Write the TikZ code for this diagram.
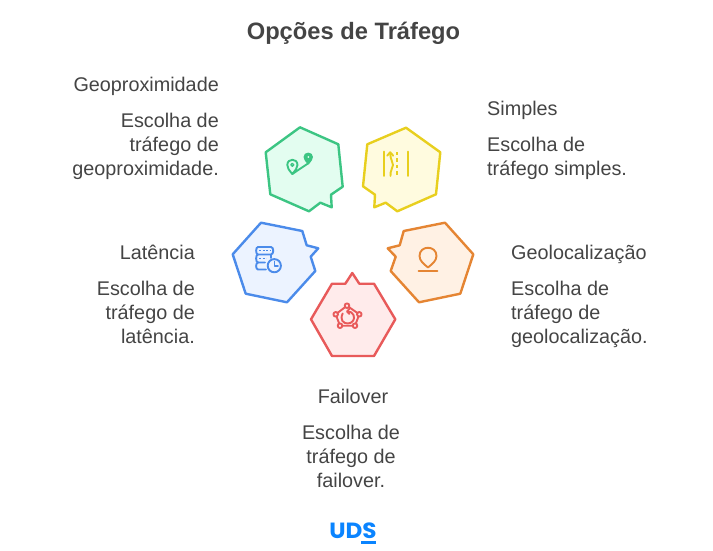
\documentclass[tikz,border=0pt]{standalone}
\usepackage{fontspec}
\setmainfont{Liberation Sans}
\newfontfamily\logofont{Poppins}
\definecolor{ink}{HTML}{444444}
\definecolor{gline}{HTML}{3CC583}\definecolor{gfill}{HTML}{E3FDF0}
\definecolor{yline}{HTML}{E8CF1E}\definecolor{yfill}{HTML}{FFFBDF}
\definecolor{oline}{HTML}{E58533}\definecolor{ofill}{HTML}{FFF1E4}
\definecolor{rline}{HTML}{E85A5A}\definecolor{rfill}{HTML}{FFEBEB}
\definecolor{bline}{HTML}{4B8BEA}\definecolor{bfill}{HTML}{ECF3FF}
\definecolor{logo}{HTML}{0A84FF}
\tikzset{
  x=1pt,y=-1pt,
  hex/.style={line width=2.4pt,line join=round},
  icon/.style={line width=1.9pt,line cap=round,line join=round},
  head/.style={inner sep=0pt,text=ink,font=\fontsize{19.8}{24}\selectfont},
  body/.style={inner sep=0pt,text=ink,font=\fontsize{19.8}{24}\selectfont},
}
\begin{document}
\begin{tikzpicture}
\useasboundingbox (0,0) rectangle (713,551);
\node[inner sep=0pt,text=ink,font=\fontsize{23.7}{28}\selectfont\bfseries] (title) at (353.5,33) {Opções de Tráfego};
% hexagons
\draw[hex,draw=gline,fill=gfill] (300,127.3)--(338.3,144.3)--(342.7,186.7)--(331,194.7)--(331.7,207.3)--(320.3,202.7)--(309,211.3)--(270.3,194.3)--(265.7,152.3)--cycle;
\draw[hex,draw=yline,fill=yfill] (406,127.7)--(440.3,152.3)--(436,194.3)--(397.3,211.3)--(385.7,202.7)--(374.3,207.3)--(375,194.7)--(363,186.3)--(367.3,144.3)--cycle;
\draw[hex,draw=oline,fill=ofill] (445,222.7)--(473.3,254.3)--(460.3,293.7)--(419,302.3)--(390.7,271)--(395.7,256.7)--(387.7,248.3)--(399.7,245.3)--(403.7,231)--cycle;
\draw[hex,draw=rline,fill=rfill] (352.3,273)--(359.3,283.7)--(374,283.7)--(395.3,319.3)--(374,356)--(332,356)--(311,319.3)--(332,283.7)--(345.3,283.7)--cycle;
\draw[hex,draw=bline,fill=bfill] (261,222.7)--(302.3,231)--(306.7,245.3)--(318.3,248.3)--(310.7,256.7)--(315.3,271)--(287,302.3)--(245.7,293.7)--(232.7,254.3)--cycle;
% green icon
\begin{scope}[icon,draw=gline]
\draw (292.3,174) .. controls (289,170) and (287.3,168) .. (287.3,165) .. controls (287.3,158) and (297.5,158) .. (297.5,165) .. controls (297.5,168) and (295.5,170) .. (292.3,174) -- cycle;
\draw[line width=1.3pt] (292.3,164.8) circle (1.5);
\draw[fill=gline] (308.3,163.5) .. controls (306,160.5) and (304.5,159) .. (304.5,157) .. controls (304.5,152.5) and (312,152.5) .. (312,157) .. controls (312,159) and (310.5,160.5) .. (308.3,163.5) -- cycle;
\fill[gfill] (308.3,157) circle (1);
\draw (292.3,174)--(308,163.5);
\end{scope}
% yellow icon
\begin{scope}[icon,draw=yline]
\draw (383.7,151.5)--(383.7,176);
\draw (408,151.5)--(408,176);
\draw[line cap=butt,dash pattern=on 3.4pt off 3pt] (396.8,152)--(396.8,176);
\draw (390.5,176) .. controls (390,170) and (393,168.5) .. (393,165) .. controls (393,161.5) and (390.3,160) .. (390.2,153);
\draw (387.2,155.7)--(390.2,152.2)--(393.2,155.7);
\end{scope}
% orange icon
\begin{scope}[icon,draw=oline]
\draw (428,267.5) .. controls (424,264) and (419.5,261) .. (419.5,256) .. controls (419.5,245) and (436.5,245) .. (436.5,256) .. controls (436.5,261) and (432,264) .. (428,267.5) -- cycle;
\draw (418.5,270.8)--(437.5,270.8);
\end{scope}
% red icon
\begin{scope}[icon,draw=rline]
\draw (347,305.7)--(359.3,314.3)--(355,325.7)--(340,325.7)--(335.7,314.3)--cycle;
\foreach \p in {(347,305.7),(359.3,314.3),(355,325.7),(340,325.7),(335.7,314.3)} \draw[fill=rfill] \p circle (2.3);
\draw (342.7,313.5) .. controls (339.5,320) and (343.5,323.5) .. (347.7,323.5) .. controls (352,323.5) and (355.5,319.5) .. (353.5,315) .. controls (352.5,312.5) and (350.5,311.5) .. (347.5,311.5);
\draw (349.5,308.8)--(347,311.5)--(349.5,314);
\end{scope}
% blue icon
\begin{scope}[icon,draw=bline]
\draw (265,262.5)--(258,262.5) .. controls (255.5,262.5) and (255.5,254.5) .. (258,254.5) -- (271,254.5) .. controls (274,254.5) and (274,247) .. (271,247) -- (258,247) .. controls (255.5,247) and (255.5,254.5) .. (258,254.5);
\draw (271,254.5) -- (271,258);
\draw (258,262.5) .. controls (255.5,262.5) and (255.5,269.5) .. (258,269.5) -- (266,269.5);
\draw[line width=1.3pt,line cap=butt,dash pattern=on 2pt off 1.5pt] (259,250.8)--(270,250.8);
\draw[line width=1.3pt,line cap=butt,dash pattern=on 2pt off 1.5pt] (259,258.5)--(266,258.5);
\draw[fill=bfill] (274.3,265.7) circle (6.6);
\draw (274.5,261.5)--(274.5,266)--(278,266);
\end{scope}
% labels
\node[head,anchor=base east] (geoph) at (219,91.5) {Geoproximidade};
\node[body,anchor=north east,align=right] (geopb) at (219,113) {Escolha de\\tráfego de\\geoproximidade.};
\node[head,anchor=base west] (simph) at (487,115.5) {Simples};
\node[body,anchor=north west,align=left] (simpb) at (487,137) {Escolha de\\tráfego simples.};
\node[head,anchor=base east] (lath) at (195,259.5) {Latência};
\node[body,anchor=north east,align=right] (latb) at (195,281) {Escolha de\\tráfego de\\latência.};
\node[head,anchor=base west] (locoh) at (511,259.5) {Geolocalização};
\node[body,anchor=north west,align=left] (locob) at (511,281) {Escolha de\\tráfego de\\geolocalização.};
\node[head,anchor=base] (failh) at (353,403.5) {Failover};
\node[body,anchor=north,align=center] (failb) at (351,425) {Escolha de\\tráfego de\\failover.};
% logo
\node[inner sep=0pt,text=logo,font=\logofont\fontsize{22}{22}\selectfont\bfseries,xscale=1.05] (uds) at (353,531) {UDS};
\coordinate (ulA) at (361,542.5);
\coordinate (ulB) at (376,542.5);
\draw[logo,line width=2.2pt] (ulA)--(ulB);
\end{tikzpicture}
\end{document}
